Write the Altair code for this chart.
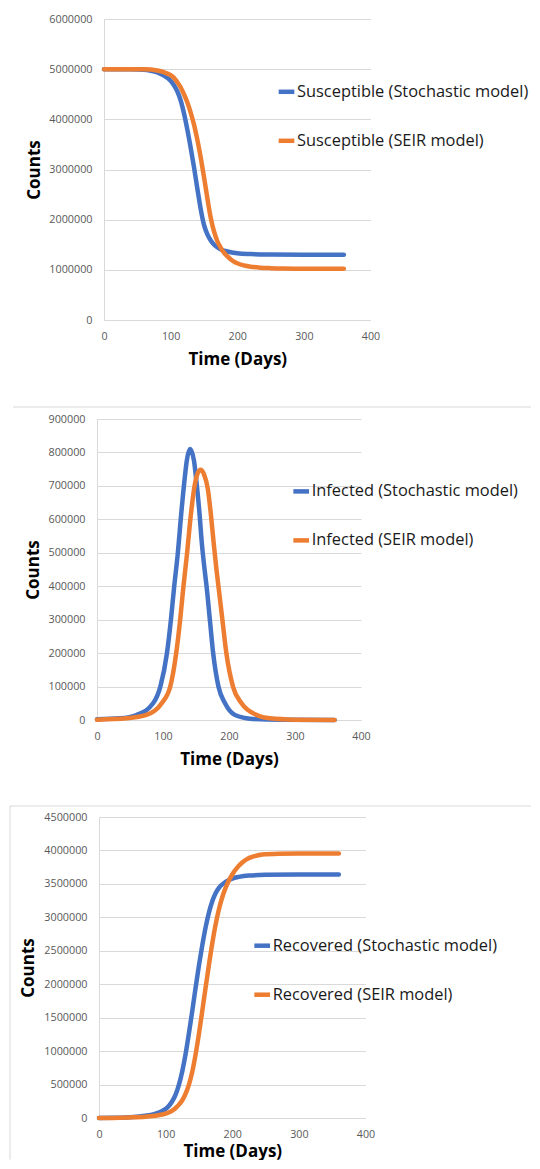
import altair as alt
import pandas as pd

# ---------------- data ----------------
S_STOCH_DAYS = [0, 40, 60, 70, 80, 90, 100, 105, 110, 115, 120, 125, 130, 135, 140, 145, 150, 155,
                160, 165, 170, 175, 180, 190, 200, 220, 250, 300, 360]
S_STOCH = [5000000, 5000000, 4990000, 4970000, 4935000, 4870000, 4770000, 4680000, 4560000,
           4380000, 4120000, 3800000, 3440000, 3050000, 2630000, 2220000, 1900000, 1710000,
           1590000, 1505000, 1450000, 1410000, 1383000, 1352000, 1332000, 1315000, 1305000,
           1300000, 1300000]
S_SEIR_DAYS = [0, 60, 80, 90, 100, 105, 110, 115, 120, 125, 130, 135, 140, 145, 150, 155, 160, 165,
               170, 175, 180, 185, 190, 195, 200, 210, 220, 235, 250, 270, 300, 360]
S_SEIR = [5000000, 5000000, 4975000, 4940000, 4880000, 4830000, 4740000, 4640000, 4500000,
          4340000, 4140000, 3900000, 3600000, 3250000, 2860000, 2440000, 2050000, 1770000,
          1575000, 1445000, 1345000, 1272000, 1212000, 1165000, 1130000, 1088000, 1063000,
          1043000, 1033000, 1025000, 1020000, 1020000]

I_STOCH_DAYS = [0, 35, 60, 85, 96, 106, 112, 117, 122, 128, 133, 136, 141, 147, 150, 155, 159, 163,
                166, 171, 176, 184, 194, 209, 236, 280, 360]
I_STOCH = [2000, 5000, 15000, 50000, 100000, 200000, 300000, 400000, 490000, 625000, 725000, 775000,
           810000, 775000, 725000, 625000, 525000, 450000, 400000, 300000, 200000, 100000, 50000,
           15000, 3000, 500, 0]
I_SEIR_DAYS = [0, 45, 75, 98, 111, 120, 126, 131, 136, 142, 147, 152, 157, 162, 168, 172, 177, 181,
               184, 190, 196, 206, 219, 242, 262, 300, 360]
I_SEIR = [1000, 5000, 15000, 50000, 100000, 200000, 300000, 400000, 490000, 610000, 690000, 735000,
          748000, 735000, 690000, 625000, 525000, 450000, 400000, 300000, 200000, 100000, 50000,
          15000, 5000, 1000, 0]

R_STOCH_DAYS = [0, 20, 40, 60, 75, 85, 95, 102, 109, 115, 120, 125, 130, 135, 140, 145, 150, 155,
                160, 165, 170, 175, 180, 190, 200, 210, 225, 250, 300, 360]
R_STOCH = [0, 2000, 8000, 22000, 42000, 65000, 105000, 150000, 235000, 350000, 500000, 700000,
           960000, 1270000, 1600000, 1950000, 2280000, 2580000, 2850000, 3070000, 3240000, 3360000,
           3440000, 3530000, 3580000, 3605000, 3625000, 3635000, 3640000, 3640000]
R_SEIR_DAYS = [0, 20, 46, 70, 87, 100, 110, 115, 120, 125, 130, 135, 140, 145, 150, 155, 160, 165,
               170, 175, 180, 185, 190, 195, 200, 208, 215, 222, 232, 245, 270, 300, 360]
R_SEIR = [0, 1000, 8000, 20000, 38000, 66000, 110000, 150000, 200000, 265000, 365000, 500000,
          690000, 950000, 1260000, 1600000, 1950000, 2290000, 2610000, 2890000, 3120000, 3300000,
          3440000, 3550000, 3640000, 3750000, 3820000, 3870000, 3910000, 3940000, 3952000,
          3955000, 3955000]

X_TICKS = [0, 100, 200, 300, 400]
S_TICKS = [0, 1000000, 2000000, 3000000, 4000000, 5000000, 6000000]
I_TICKS = [0, 100000, 200000, 300000, 400000, 500000, 600000, 700000, 800000, 900000]
R_TICKS = [0, 500000, 1000000, 1500000, 2000000, 2500000, 3000000, 3500000, 4000000, 4500000]

NAMES_S = ["Susceptible (Stochastic model)", "Susceptible (SEIR model)"]
NAMES_I = ["Infected (Stochastic model)", "Infected (SEIR model)"]
NAMES_R = ["Recovered (Stochastic model)", "Recovered (SEIR model)"]

# ---------------- styling ----------------
BLUE = "#4472C4"
ORANGE = "#ED7D31"
GRID = "#D9D9D9"
FRAME = "#D9D9D9"
FONT = "Open Sans"
TICK_COLOR = "#595959"
ONE = pd.DataFrame({"k": [0]})


def guide_rule(x1, x2, y1, y2, col, sw):
    return alt.Chart(ONE).mark_rule(color=col, strokeWidth=sw).encode(
        x=alt.value(x1), x2=alt.value(x2), y=alt.value(y1), y2=alt.value(y2)
    )


def make_panel(days_a, vals_a, days_b, vals_b, names, y_ticks, width, height,
               title_x, x_title_y, legend_x, legend_y, guides):
    df_a = pd.DataFrame({"day": days_a, "count": vals_a, "series": names[0]})
    df_b = pd.DataFrame({"day": days_b, "count": vals_b, "series": names[1]})

    color = alt.Color(
        "series:N",
        scale=alt.Scale(domain=names, range=[BLUE, ORANGE]),
        legend=alt.Legend(
            title=None, orient="none", legendX=legend_x, legendY=legend_y,
            direction="vertical", symbolType="stroke", symbolSize=246,
            symbolStrokeWidth=4.5, labelFont=FONT, labelFontSize=16.4,
            labelColor="#1a1a1a", labelLimit=400, labelOffset=0,
            rowPadding=29, padding=0,
        ),
    )
    x = alt.X(
        "day:Q",
        scale=alt.Scale(domain=[0, 400], nice=False),
        axis=alt.Axis(
            values=X_TICKS, format="d", grid=False, ticks=False,
            domainColor=GRID, domainWidth=1, labelFont=FONT, labelFontSize=10.7,
            labelColor=TICK_COLOR, labelPadding=11, labelFlush=False,
            title="Time (Days)", titleFont=FONT, titleFontSize=17,
            titleFontWeight="bold", titleColor="#000000", titleY=x_title_y,
            titleBaseline="middle",
        ),
    )
    y = alt.Y(
        "count:Q",
        scale=alt.Scale(domain=[0, y_ticks[-1]], nice=False),
        axis=alt.Axis(
            values=y_ticks, format="d", grid=True, gridColor=GRID, gridWidth=1,
            ticks=False, domainColor=GRID, domainWidth=1, labelFont=FONT,
            labelFontSize=10.8, labelColor=TICK_COLOR, labelPadding=12,
            labelFlush=False, title="Counts", titleFont=FONT, titleFontSize=17,
            titleFontWeight="bold", titleColor="#000000", titleX=title_x,
            titleY=height / 2, titleBaseline="middle",
        ),
    )
    line_a = alt.Chart(df_a).mark_line(
        strokeWidth=4.5, strokeCap="round", strokeJoin="round", interpolate="monotone"
    ).encode(x=x, y=y, color=color)
    line_b = alt.Chart(df_b).mark_line(
        strokeWidth=4.5, strokeCap="round", strokeJoin="round", interpolate="monotone"
    ).encode(x=x, y=y, color=color)

    layers = [guide_rule(*g) for g in guides]
    return alt.layer(*layers, line_a, line_b).properties(width=width, height=height)


def row(spacer_width, panel):
    spacer = guide_rule(0, 0, 0, 1, "#ffffff", 0).properties(width=spacer_width, height=1)
    return alt.hconcat(spacer, panel, spacing=0).resolve_scale(color="independent")


p1 = make_panel(
    S_STOCH_DAYS, S_STOCH, S_SEIR_DAYS, S_SEIR, NAMES_S, S_TICKS, 266.5, 301,
    title_x=-69.6, x_title_y=39.5, legend_x=172, legend_y=62.3,
    guides=[(-90, -90, -11, 370, "#ffffff", 0)],
)
p2 = make_panel(
    I_STOCH_DAYS, I_STOCH, I_SEIR_DAYS, I_SEIR, NAMES_I, I_TICKS, 264, 301,
    title_x=-63.2, x_title_y=39.5, legend_x=193.7, legend_y=61.9,
    guides=[(-85, -85, -30, 386, "#ffffff", 0),
            (-84, 434, -12, -12, FRAME, 1)],
)
p3 = make_panel(
    R_STOCH_DAYS, R_STOCH, R_SEIR_DAYS, R_SEIR, NAMES_R, R_TICKS, 266.5, 301,
    title_x=-70.1, x_title_y=33, legend_x=152.7, legend_y=118.2,
    guides=[(-90, -90, -12, 343, "#ffffff", 0),
            (-89, 432, -11, -11, FRAME, 1),
            (-89, -89, -11, 342.5, FRAME, 1)],
)

chart = (
    alt.vconcat(row(6, p1), row(4, p2), row(1, p3), spacing=0)
    .resolve_scale(color="independent")
    .properties(padding=0, background="#ffffff")
    .configure_view(strokeWidth=0)
)

chart.save("out.html", embed_options={"renderer": "svg", "actions": False})
